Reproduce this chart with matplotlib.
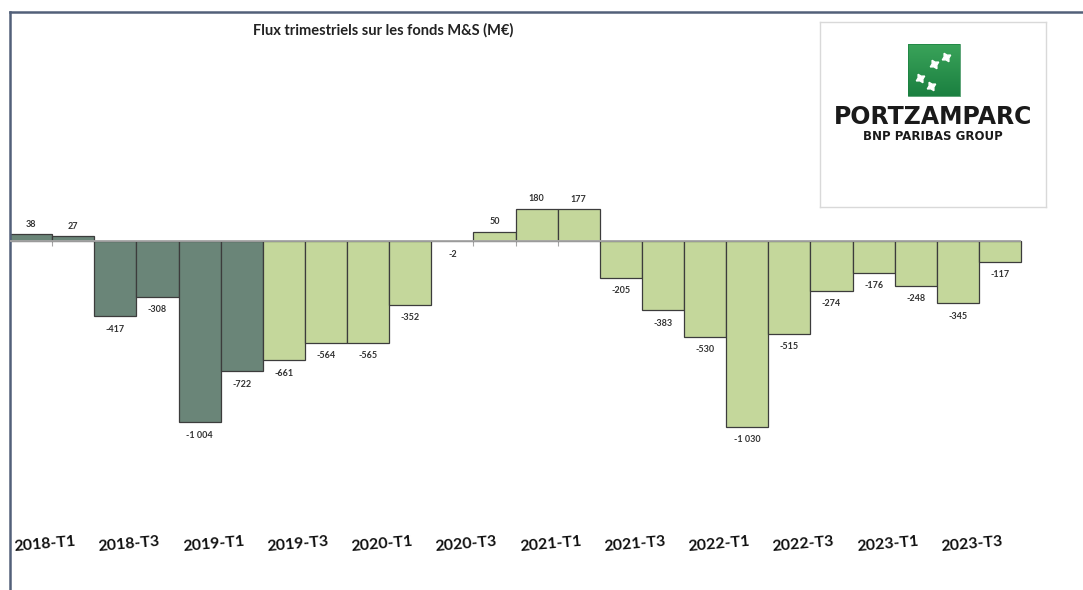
import numpy as np
import matplotlib.pyplot as plt
from matplotlib.patches import Rectangle

plt.rcParams['font.family'] = ['Lato', 'DejaVu Sans']

# quarterly flows (M EUR)
quarters = ['2018-T1', '2018-T2', '2018-T3', '2018-T4',
            '2019-T1', '2019-T2', '2019-T3', '2019-T4',
            '2020-T1', '2020-T2', '2020-T3', '2020-T4',
            '2021-T1', '2021-T2', '2021-T3', '2021-T4',
            '2022-T1', '2022-T2', '2022-T3', '2022-T4',
            '2023-T1', '2023-T2', '2023-T3', '2023-T4']
flows = [38, 27, -417, -308, -1004, -722, -661, -564, -565, -352, -2, 50,
         180, 177, -205, -383, -530, -1030, -515, -274, -176, -248, -345, -117]
n_dark = 6  # first quarters in dark colour

dark = '#6a8578'
light = '#c4d79b'
colors = [dark if i < n_dark else light for i in range(len(flows))]

W, H = 1083, 590
fig = plt.figure(figsize=(W / 100, H / 100), dpi=100)
ax = fig.add_axes([10 / W, 0, (W - 10) / W, (H - 12) / H])

x = np.arange(len(flows))
ax.bar(x, flows, width=1.0, color=colors, edgecolor='#3c3c3c', linewidth=0.9, zorder=2)

ax.hlines(0, -0.5, len(flows) - 0.5, color='#a6a6a6', linewidth=1.3, zorder=3)
ax.vlines(np.arange(len(flows) + 1) - 0.5, -25, 0, color='#a6a6a6', linewidth=0.8, zorder=1)

def fmt(v):
    return f'{v:,}'.replace(',', ' ')

for xi, v in zip(x, flows):
    if v >= 0:
        ax.annotate(fmt(v), (xi, v), xytext=(0, 4), textcoords='offset points',
                    ha='center', va='bottom', fontsize=6.5, fontweight='bold', color='#333333')
    else:
        ax.annotate(fmt(v), (xi, v), xytext=(0, -6), textcoords='offset points',
                    ha='center', va='top', fontsize=6.5, fontweight='bold', color='#333333')

ax.set_xlim(-0.5, -0.5 + (W - 10) / 42.125)
ax.set_ylim(-1932, 1268)
ax.set_xticks([])
ax.set_yticks([])
for s in ['right', 'bottom']:
    ax.spines[s].set_visible(False)
for s in ['left', 'top']:
    ax.spines[s].set_color('#526079')
    ax.spines[s].set_linewidth(1.8)

for i in range(0, len(quarters), 2):
    ax.text(i + 0.33, -1680, quarters[i], ha='center', va='center', rotation=5,
            fontsize=11.5, fontweight='bold', color='#111111')

fig.text(383 / W, 1 - 30 / H, 'Flux trimestriels sur les fonds M&S (M€)',
         ha='center', va='center', fontsize=10.5, fontweight='bold', color='#222222')

# logo box
lx0, ly0, lw, lh = 820, 22, 226, 185
lax = fig.add_axes([lx0 / W, 1 - (ly0 + lh) / H, lw / W, lh / H])
lax.set_xlim(0, lw)
lax.set_ylim(lh, 0)
lax.set_xticks([])
lax.set_yticks([])
for s in lax.spines.values():
    s.set_color('#d9d9d9')
    s.set_linewidth(1.0)
grad = np.linspace(0, 1, 50).reshape(-1, 1)
lax.imshow(grad, cmap=plt.matplotlib.colors.LinearSegmentedColormap.from_list(
    'g', ['#3aa35a', '#1b8040']), extent=(88, 140, 74, 22), aspect='auto')
lax.add_patch(Rectangle((88, 22), 52, 52, fill=False, edgecolor='#1b8040', linewidth=0.5))
lax.plot([126, 114, 100, 111], [35, 42, 56, 64], linestyle='none', marker=(4, 1, 30),
         markersize=7, color='white')
lax.text(lw / 2, 95, 'PORTZAMPARC', ha='center', va='center', fontsize=17,
         fontweight='bold', color='#1a1a1a', family=['DejaVu Sans'])
lax.text(lw / 2, 115, 'BNP PARIBAS GROUP', ha='center', va='center', fontsize=8.5,
         fontweight='bold', color='#1a1a1a', family=['DejaVu Sans'])

fig.savefig('out.png', dpi=100, facecolor='white')
